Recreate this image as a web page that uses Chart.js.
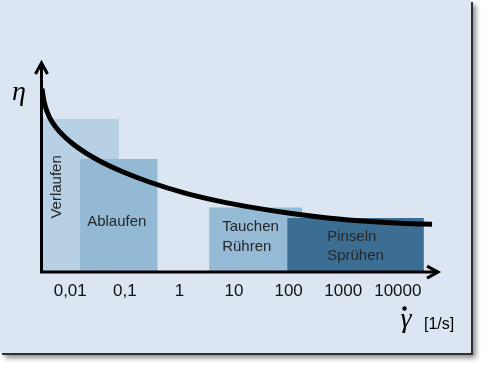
<!DOCTYPE html>
<html>
<head>
<meta charset="utf-8">
<script src="https://cdn.jsdelivr.net/npm/chart.js@4.4.1/dist/chart.umd.min.js"></script>
<style>
  html, body { margin: 0; padding: 0; background: #fff; }
  .wrap { position: relative; width: 489px; height: 372px; overflow: hidden; }
  .panel {
    position: absolute; left: 0; top: 0; width: 471px; height: 353px;
    background: #dce6f2;
    box-shadow: 2px 2px 0 #2e2e2e, 5px 5px 5px rgba(0, 0, 0, 0.45);
  }
  canvas { position: absolute; left: 0; top: 0; }
</style>
</head>
<body>
<div class="wrap">
  <div class="panel"></div>
  <canvas id="chart" width="489" height="372"></canvas>
</div>
<script>
// Schergeschwindigkeit [1/s] - Achsenbeschriftung
const tickValues = [0.01, 0.1, 1, 10, 100, 1000, 10000];
const tickLabels = ['0,01', '0,1', '1', '10', '100', '1000', '10000'];

// Anwendungsbereiche (von / bis in 1/s, Höhe = Viskosität relativ)
const bereiche = [['Verlaufen'], ['Ablaufen'], ['Tauchen', 'Rühren'], ['Pinseln', 'Sprühen']];
const bereichVon = [0.0029, 0.015, 3.5, 94];
const bereichBis = [0.078, 0.4, 176, 30000];
const bereichHoehe = [74, 54.5, 31, 26];

// Viskositätskurve (strukturviskos)
const kurveX = [0.00304, 0.00331, 0.00376, 0.00464, 0.0065, 0.0108, 0.0195, 0.0382, 0.0889, 0.289, 1.27, 5.54, 24.2, 106, 573, 3100, 13500, 42300];
const kurveY = [88.5, 82.5, 77.5, 72.5, 67.5, 62.1, 57.35, 52.95, 48.45, 43.25, 38, 34, 30.85, 28.2, 25.8, 24.2, 23.3, 22.95];

const farben = ['#b8d0e4', '#93b9d5', '#95bad6', '#3c6e93'];
const textFont = '15px "Liberation Sans", Arial, sans-serif';

const datasets = bereiche.map((name, i) => ({
  label: name.join(' '),
  data: [
    { x: bereichVon[i], y: bereichHoehe[i] },
    { x: bereichBis[i], y: bereichHoehe[i] },
  ],
  fill: 'origin',
  backgroundColor: farben[i],
  borderColor: 'rgba(0,0,0,0)',
  borderWidth: 0,
  pointRadius: 0,
  order: 4 - i,
}));

datasets.push({
  label: 'Viskosität',
  data: kurveX.map((x, i) => ({ x, y: kurveY[i] })),
  fill: false,
  borderColor: '#000',
  borderWidth: 5,
  borderCapStyle: 'butt',
  cubicInterpolationMode: 'monotone',
  pointRadius: 0,
  order: 0,
});

// Achsen mit Pfeilen + Beschriftungen
const achsenPlugin = {
  id: 'achsen',
  afterDatasetsDraw(chart) {
    const { ctx, chartArea: a, scales } = chart;
    const x = scales.x;
    const y = scales.y;
    ctx.save();

    // Bereichstexte
    ctx.fillStyle = '#262626';
    ctx.font = textFont;
    ctx.textBaseline = 'middle';

    ctx.save();
    ctx.translate(x.getPixelForValue(bereichVon[0]) + 16, y.getPixelForValue(41));
    ctx.rotate(-Math.PI / 2);
    ctx.textAlign = 'center';
    ctx.fillText(bereiche[0][0], 0, 0);
    ctx.restore();

    ctx.textAlign = 'center';
    const abMitte = (x.getPixelForValue(bereichVon[1]) + x.getPixelForValue(bereichBis[1])) / 2;
    ctx.fillText(bereiche[1][0], abMitte - 2, y.getPixelForValue(24));

    ctx.textAlign = 'left';
    const tX = x.getPixelForValue(bereichVon[2]) + 13;
    ctx.fillText(bereiche[2][0], tX, y.getPixelForValue(21.5));
    ctx.fillText(bereiche[2][1], tX, y.getPixelForValue(12));
    const pX = x.getPixelForValue(bereichVon[3]) + 40;
    ctx.fillText(bereiche[3][0], pX, y.getPixelForValue(17));
    ctx.fillText(bereiche[3][1], pX, y.getPixelForValue(7.5));

    // Achsen
    ctx.strokeStyle = '#000';
    ctx.lineWidth = 3;
    ctx.beginPath();
    ctx.moveTo(a.left + 0.5, a.bottom + 2);
    ctx.lineTo(a.left + 0.5, a.top - 2);
    ctx.moveTo(a.left - 1, a.bottom + 0.5);
    ctx.lineTo(a.right + 1, a.bottom + 0.5);
    ctx.stroke();

    ctx.beginPath();
    ctx.moveTo(a.left - 5.5, a.top + 9);
    ctx.lineTo(a.left + 0.5, a.top - 2);
    ctx.lineTo(a.left + 6.5, a.top + 9);
    ctx.moveTo(a.right - 10, a.bottom - 5.5);
    ctx.lineTo(a.right + 1, a.bottom + 0.5);
    ctx.lineTo(a.right - 10, a.bottom + 6.5);
    ctx.stroke();

    // Achsentitel
    ctx.fillStyle = '#000';
    ctx.textBaseline = 'alphabetic';
    ctx.textAlign = 'center';
    ctx.font = 'italic 28px "Liberation Serif", "Times New Roman", serif';
    ctx.fillText('η', 19, 100);
    ctx.fillText('γ', 406, 327);
    ctx.beginPath();
    ctx.arc(404.5, 308.5, 2.2, 0, Math.PI * 2);
    ctx.fill();

    ctx.textAlign = 'left';
    ctx.font = '16px "Liberation Sans", Arial, sans-serif';
    ctx.fillText('[1/s]', 424, 329);

    ctx.restore();
  },
};

const ctx = document.getElementById('chart').getContext('2d');
const chart = new Chart(ctx, {
  type: 'line',
  data: { datasets },
  options: {
    responsive: false,
    animation: false,
    events: [],
    layout: { padding: { left: 41, top: 65, right: 52, bottom: 60 } },
    plugins: {
      legend: { display: false },
      tooltip: { enabled: false },
    },
    scales: {
      x: {
        type: 'logarithmic',
        min: 0.002917,
        max: 52120,
        bounds: 'data',
        grid: { display: false, drawTicks: false },
        border: { display: false },
        afterBuildTicks: (scale) => {
          scale.ticks = tickValues.map((v) => ({ value: v }));
        },
        ticks: {
          autoSkip: false,
          maxRotation: 0,
          padding: 10,
          color: '#111',
          font: { family: '"Liberation Sans", Arial, sans-serif', size: 17 },
          callback: (value, index) => tickLabels[index],
        },
      },
      y: {
        display: false,
        min: 0,
        max: 100,
      },
    },
  },
  plugins: [achsenPlugin],
});
</script>
</body>
</html>
